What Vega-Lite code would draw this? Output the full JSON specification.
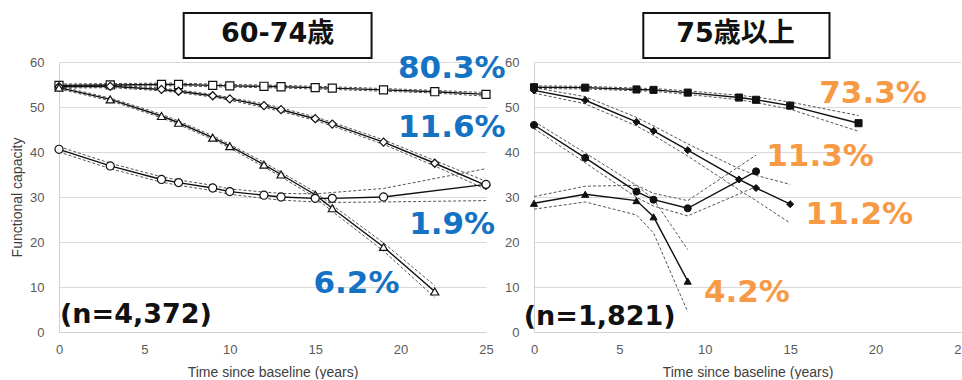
{
  "$schema": "https://vega.github.io/schema/vega-lite/v6.json",
  "padding": {"left": 10, "top": 11, "right": 0, "bottom": 0},
  "bounds": "flush",
  "spacing": 48,
  "config": {
    "view": {"stroke": null},
    "axis": {
      "labelFont": "Liberation Sans", "titleFont": "Liberation Sans",
      "labelColor": "#595959", "titleColor": "#404040",
      "labelFontSize": 13, "titleFontSize": 14, "titleFontWeight": "normal",
      "gridColor": "#d9d9d9", "domainColor": "#d0d0d0", "tickSize": 0, "ticks": false, "labelFlush": false
    }
  },
  "datasets": {
    "L": [
      {"s":"sq","t":0,"y":54.8,"lo":54.5,"hi":55.1},{"s":"sq","t":3,"y":54.9,"lo":54.6,"hi":55.2},{"s":"sq","t":6,"y":55.0,"lo":54.7,"hi":55.3},{"s":"sq","t":7,"y":55.0,"lo":54.7,"hi":55.3},{"s":"sq","t":9,"y":54.8,"lo":54.5,"hi":55.1},{"s":"sq","t":10,"y":54.7,"lo":54.4,"hi":55.0},{"s":"sq","t":12,"y":54.6,"lo":54.3,"hi":54.9},{"s":"sq","t":13,"y":54.5,"lo":54.2,"hi":54.8},{"s":"sq","t":15,"y":54.3,"lo":54.0,"hi":54.6},{"s":"sq","t":16,"y":54.2,"lo":53.9,"hi":54.5},{"s":"sq","t":19,"y":53.8,"lo":53.5,"hi":54.1},{"s":"sq","t":22,"y":53.4,"lo":53.1,"hi":53.7},{"s":"sq","t":25,"y":52.8,"lo":52.4,"hi":53.2},
      {"s":"dia","t":0,"y":54.5,"lo":54.2,"hi":54.8},{"s":"dia","t":3,"y":54.6,"lo":54.3,"hi":54.9},{"s":"dia","t":6,"y":53.9,"lo":53.6,"hi":54.2},{"s":"dia","t":7,"y":53.5,"lo":53.2,"hi":53.8},{"s":"dia","t":9,"y":52.5,"lo":52.2,"hi":52.8},{"s":"dia","t":10,"y":51.8,"lo":51.5,"hi":52.1},{"s":"dia","t":12,"y":50.3,"lo":49.9,"hi":50.7},{"s":"dia","t":13,"y":49.4,"lo":49.0,"hi":49.8},{"s":"dia","t":15,"y":47.4,"lo":47.0,"hi":47.8},{"s":"dia","t":16,"y":46.2,"lo":45.8,"hi":46.6},{"s":"dia","t":19,"y":42.2,"lo":41.7,"hi":42.7},{"s":"dia","t":22,"y":37.5,"lo":36.9,"hi":38.1},{"s":"dia","t":25,"y":32.6,"lo":31.7,"hi":33.5},
      {"s":"tri","t":0,"y":54.3,"lo":54.0,"hi":54.6},{"s":"tri","t":3,"y":51.7,"lo":51.4,"hi":52.0},{"s":"tri","t":6,"y":48.0,"lo":47.6,"hi":48.4},{"s":"tri","t":7,"y":46.5,"lo":46.1,"hi":46.9},{"s":"tri","t":9,"y":43.2,"lo":42.8,"hi":43.6},{"s":"tri","t":10,"y":41.3,"lo":40.9,"hi":41.7},{"s":"tri","t":12,"y":37.2,"lo":36.7,"hi":37.7},{"s":"tri","t":13,"y":35.0,"lo":34.5,"hi":35.5},{"s":"tri","t":15,"y":30.5,"lo":29.9,"hi":31.1},{"s":"tri","t":16,"y":27.5,"lo":26.8,"hi":28.2},{"s":"tri","t":19,"y":18.9,"lo":18.0,"hi":19.8},{"s":"tri","t":22,"y":9.0,"lo":7.7,"hi":10.3},
      {"s":"cir","t":0,"y":40.6,"lo":40.0,"hi":41.2},{"s":"cir","t":3,"y":36.9,"lo":36.3,"hi":37.5},{"s":"cir","t":6,"y":33.9,"lo":33.3,"hi":34.5},{"s":"cir","t":7,"y":33.2,"lo":32.6,"hi":33.8},{"s":"cir","t":9,"y":32.0,"lo":31.4,"hi":32.6},{"s":"cir","t":10,"y":31.2,"lo":30.6,"hi":31.8},{"s":"cir","t":12,"y":30.4,"lo":29.7,"hi":31.1},{"s":"cir","t":13,"y":30.0,"lo":29.3,"hi":30.8},{"s":"cir","t":15,"y":29.7,"lo":28.9,"hi":30.7},{"s":"cir","t":16,"y":29.7,"lo":28.8,"hi":31.0},{"s":"cir","t":19,"y":30.0,"lo":28.9,"hi":31.9},{"s":"cir","t":25,"y":32.8,"lo":29.2,"hi":36.3}
    ],
    "R": [
      {"s":"sq","t":0,"y":54.4,"lo":54.1,"hi":54.7},{"s":"sq","t":3,"y":54.3,"lo":54.0,"hi":54.6},{"s":"sq","t":6,"y":53.9,"lo":53.6,"hi":54.2},{"s":"sq","t":7,"y":53.8,"lo":53.5,"hi":54.1},{"s":"sq","t":9,"y":53.2,"lo":52.8,"hi":53.6},{"s":"sq","t":12,"y":52.1,"lo":51.6,"hi":52.6},{"s":"sq","t":13,"y":51.6,"lo":51.0,"hi":52.2},{"s":"sq","t":15,"y":50.3,"lo":49.5,"hi":51.1},{"s":"sq","t":19,"y":46.4,"lo":44.6,"hi":48.1},
      {"s":"dia","t":0,"y":53.7,"lo":53.1,"hi":54.3},{"s":"dia","t":3,"y":51.5,"lo":50.7,"hi":52.3},{"s":"dia","t":6,"y":46.7,"lo":45.8,"hi":47.7},{"s":"dia","t":7,"y":44.7,"lo":43.7,"hi":45.8},{"s":"dia","t":9,"y":40.4,"lo":39.1,"hi":41.8},{"s":"dia","t":12,"y":33.9,"lo":31.6,"hi":36.3},{"s":"dia","t":13,"y":32.0,"lo":29.2,"hi":34.8},{"s":"dia","t":15,"y":28.4,"lo":24.2,"hi":32.8},
      {"s":"cir","t":0,"y":46.0,"lo":45.2,"hi":46.8},{"s":"cir","t":3,"y":38.7,"lo":37.6,"hi":39.8},{"s":"cir","t":6,"y":31.2,"lo":29.9,"hi":32.6},{"s":"cir","t":7,"y":29.4,"lo":28.0,"hi":30.8},{"s":"cir","t":9,"y":27.5,"lo":25.8,"hi":29.2},{"s":"cir","t":13,"y":35.7,"lo":32.3,"hi":39.3},
      {"s":"tri","t":0,"y":28.6,"lo":27.3,"hi":30.1},{"s":"tri","t":3,"y":30.6,"lo":28.9,"hi":32.4},{"s":"tri","t":6,"y":29.2,"lo":26.0,"hi":32.6},{"s":"tri","t":7,"y":25.6,"lo":22.0,"hi":29.5},{"s":"tri","t":9,"y":11.3,"lo":4.5,"hi":18.3}
    ],
    "LP": [
      {"t":19.85,"y":58.4,"text":"80.3%"},{"t":19.85,"y":45.3,"text":"11.6%"},{"t":20.5,"y":23.8,"text":"1.9%"},{"t":14.9,"y":10.7,"text":"6.2%"}
    ],
    "RP": [
      {"t":16.7,"y":52.8,"text":"73.3%"},{"t":13.6,"y":38.8,"text":"11.3%"},{"t":15.9,"y":26.0,"text":"11.2%"},{"t":9.95,"y":8.7,"text":"4.2%"}
    ],
    "LN": [{"t":0.06,"y":3.8,"text":"(n=4,372)"}],
    "RN": [{"t":-0.6,"y":3.4,"text":"(n=1,821)"}],
    "LT": [{"x1":7.3,"x2":18.3,"y1":60.9,"y2":70.9,"tx":12.8,"ty":66.2,"text":"60-74歳"}],
    "RT": [{"x1":6.4,"x2":17.3,"y1":60.9,"y2":70.9,"tx":11.8,"ty":66.2,"text":"75歳以上"}]
  },
  "hconcat": [
    {
      "width": 427, "height": 270,
      "layer": [
        {"data": {"name": "L"}, "mark": {"type": "line", "strokeDash": [3, 2], "strokeWidth": 1, "color": "#555"},
         "encoding": {
           "x": {"field": "t", "type": "quantitative", "title": "Time since baseline (years)", "scale": {"domain": [0, 25], "nice": false}, "axis": {"values": [0,5,10,15,20,25], "grid": false, "labelPadding": 11, "titlePadding": 9}},
           "y": {"field": "lo", "type": "quantitative", "title": "Functional capacity", "scale": {"domain": [0, 60], "nice": false}, "axis": {"values": [0,10,20,30,40,50,60], "labelPadding": 15, "titlePadding": 5}},
           "detail": {"field": "s"}}},
        {"data": {"name": "L"}, "mark": {"type": "line", "strokeDash": [3, 2], "strokeWidth": 1, "color": "#555"},
         "encoding": {
           "x": {"field": "t", "type": "quantitative", "title": "Time since baseline (years)"},
           "y": {"field": "hi", "type": "quantitative", "title": "Functional capacity"},
           "detail": {"field": "s"}}},
        {"data": {"name": "L"}, "mark": {"type": "line", "strokeWidth": 1.4, "color": "#111"},
         "encoding": {
           "x": {"field": "t", "type": "quantitative", "title": "Time since baseline (years)"},
           "y": {"field": "y", "type": "quantitative", "title": "Functional capacity"},
           "detail": {"field": "s"}}},
        {"data": {"name": "L"}, "mark": {"type": "point", "filled": true, "fill": "white", "stroke": "#111", "strokeWidth": 1.2, "size": 65, "opacity": 1},
         "encoding": {
           "x": {"field": "t", "type": "quantitative", "title": "Time since baseline (years)"},
           "y": {"field": "y", "type": "quantitative", "title": "Functional capacity"},
           "shape": {"field": "s", "type": "nominal", "scale": {"domain": ["sq","dia","tri","cir"], "range": ["square","diamond","triangle-up","circle"]}, "legend": null}}},
        {"data": {"name": "LP"}, "mark": {"type": "text", "align": "left", "baseline": "middle", "font": "DejaVu Sans", "fontWeight": "bold", "fontSize": 31, "color": "#1472C4"},
         "encoding": {
           "x": {"field": "t", "type": "quantitative", "title": "Time since baseline (years)"},
           "y": {"field": "y", "type": "quantitative", "title": "Functional capacity"},
           "text": {"field": "text"}}},
        {"data": {"name": "LN"}, "mark": {"type": "text", "align": "left", "baseline": "middle", "font": "DejaVu Sans", "fontWeight": "bold", "fontSize": 27, "color": "#111"},
         "encoding": {
           "x": {"field": "t", "type": "quantitative", "title": "Time since baseline (years)"},
           "y": {"field": "y", "type": "quantitative", "title": "Functional capacity"},
           "text": {"field": "text"}}},
        {"data": {"name": "LT"}, "mark": {"type": "rect", "fill": "white", "stroke": "#111", "strokeWidth": 2},
         "encoding": {
           "x": {"field": "x1", "type": "quantitative", "title": "Time since baseline (years)"}, "x2": {"field": "x2"},
           "y": {"field": "y1", "type": "quantitative", "title": "Functional capacity"}, "y2": {"field": "y2"}}},
        {"data": {"name": "LT"}, "mark": {"type": "text", "align": "center", "baseline": "middle", "font": "DejaVu Sans, Noto Sans CJK JP", "fontWeight": "bold", "fontSize": 27, "color": "#111"},
         "encoding": {
           "x": {"field": "tx", "type": "quantitative", "title": "Time since baseline (years)"},
           "y": {"field": "ty", "type": "quantitative", "title": "Functional capacity"},
           "text": {"field": "text"}}}
      ]
    },
    {
      "width": 427, "height": 270,
      "layer": [
        {"data": {"name": "R"}, "mark": {"type": "line", "strokeDash": [3, 2], "strokeWidth": 1, "color": "#555"},
         "encoding": {
           "x": {"field": "t", "type": "quantitative", "title": "Time since baseline (years)", "scale": {"domain": [0, 25], "nice": false}, "axis": {"values": [0,5,10,15,20,25], "grid": false, "labelPadding": 11, "titlePadding": 9}},
           "y": {"field": "lo", "type": "quantitative", "title": null, "scale": {"domain": [0, 60], "nice": false}, "axis": {"values": [0,10,20,30,40,50,60], "labelPadding": 15}},
           "detail": {"field": "s"}}},
        {"data": {"name": "R"}, "mark": {"type": "line", "strokeDash": [3, 2], "strokeWidth": 1, "color": "#555"},
         "encoding": {
           "x": {"field": "t", "type": "quantitative", "title": "Time since baseline (years)"},
           "y": {"field": "hi", "type": "quantitative", "title": null},
           "detail": {"field": "s"}}},
        {"data": {"name": "R"}, "mark": {"type": "line", "strokeWidth": 1.4, "color": "#111"},
         "encoding": {
           "x": {"field": "t", "type": "quantitative", "title": "Time since baseline (years)"},
           "y": {"field": "y", "type": "quantitative", "title": null},
           "detail": {"field": "s"}}},
        {"data": {"name": "R"}, "mark": {"type": "point", "filled": true, "fill": "#111", "stroke": "#111", "strokeWidth": 1, "size": 50, "opacity": 1},
         "encoding": {
           "x": {"field": "t", "type": "quantitative", "title": "Time since baseline (years)"},
           "y": {"field": "y", "type": "quantitative", "title": null},
           "shape": {"field": "s", "type": "nominal", "scale": {"domain": ["sq","dia","tri","cir"], "range": ["square","diamond","triangle-up","circle"]}, "legend": null}}},
        {"data": {"name": "RP"}, "mark": {"type": "text", "align": "left", "baseline": "middle", "font": "DejaVu Sans", "fontWeight": "bold", "fontSize": 31, "color": "#F79A46"},
         "encoding": {
           "x": {"field": "t", "type": "quantitative", "title": "Time since baseline (years)"},
           "y": {"field": "y", "type": "quantitative", "title": null},
           "text": {"field": "text"}}},
        {"data": {"name": "RN"}, "mark": {"type": "text", "align": "left", "baseline": "middle", "font": "DejaVu Sans", "fontWeight": "bold", "fontSize": 27, "color": "#111"},
         "encoding": {
           "x": {"field": "t", "type": "quantitative", "title": "Time since baseline (years)"},
           "y": {"field": "y", "type": "quantitative", "title": null},
           "text": {"field": "text"}}},
        {"data": {"name": "RT"}, "mark": {"type": "rect", "fill": "white", "stroke": "#111", "strokeWidth": 2},
         "encoding": {
           "x": {"field": "x1", "type": "quantitative", "title": "Time since baseline (years)"}, "x2": {"field": "x2"},
           "y": {"field": "y1", "type": "quantitative", "title": null}, "y2": {"field": "y2"}}},
        {"data": {"name": "RT"}, "mark": {"type": "text", "align": "center", "baseline": "middle", "font": "DejaVu Sans, Noto Sans CJK JP", "fontWeight": "bold", "fontSize": 27, "color": "#111"},
         "encoding": {
           "x": {"field": "tx", "type": "quantitative", "title": "Time since baseline (years)"},
           "y": {"field": "ty", "type": "quantitative", "title": null},
           "text": {"field": "text"}}}
      ]
    }
  ]
}
